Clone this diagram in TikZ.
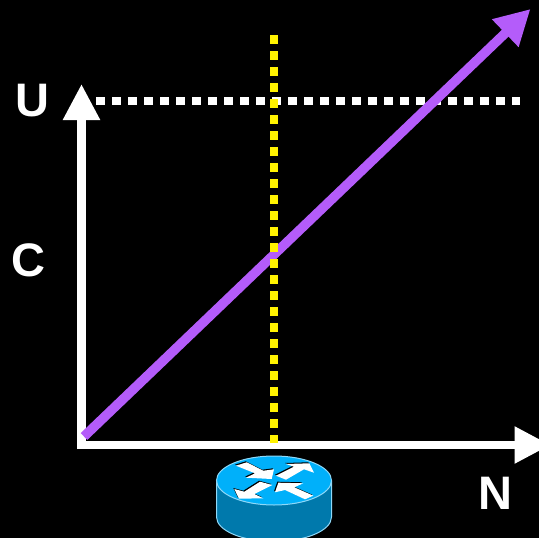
\documentclass[tikz,border=0pt]{standalone}
\usepackage{xcolor}
\usepackage{fontspec}
\setmainfont{Liberation Sans}
\usetikzlibrary{arrows.meta}
\definecolor{linePurple}{HTML}{B45CFA}
\definecolor{routerTop}{HTML}{00B0FA}
\definecolor{routerSide}{HTML}{0079AC}
\definecolor{routerEdge}{HTML}{8FD8F8}
\tikzset{
    axisline/.style={draw=white,line width=8.5pt,-{Triangle[width=35pt,length=36pt]}},
    limitline/.style={line width=8.5pt,dash pattern=on 8.5pt off 7.5pt},
    axislabel/.style={text=white,font=\fontsize{47}{47}\selectfont\bfseries,inner sep=0pt}
}
\begin{document}
\begin{tikzpicture}[x=1pt,y=-1pt]
    \useasboundingbox (0,0) rectangle (539,538);
    \fill[black] (0,0) rectangle (539,538);
    \coordinate (origin) at (77,445);
    \coordinate (corner) at (81.5,449);
    \coordinate (utop) at (81.5,84);
    \coordinate (nend) at (550.5,445);
    \coordinate (lineStart) at (84,436.5);
    \coordinate (lineEnd) at (530.5,9);
    \coordinate (uStart) at (96,101);
    \coordinate (uEnd) at (520,101);
    \coordinate (nStart) at (274,35);
    \coordinate (nStop) at (274,443);
    % Axes
    \draw[axisline] (corner) -- (utop);
    \draw[axisline] (origin) -- (nend);
    % Upper limit
    \draw[limitline,white] (uStart) -- (uEnd);
    % Growth line
    \draw[linePurple,line width=9.5pt,-{Triangle[width=36pt,length=35pt]}] (lineStart) -- (lineEnd);
    % Router position
    \draw[limitline,yellow] (nStart) -- (nStop);
    % Labels
    \node[axislabel] (ulabel) at (32.5,101) {U};
    \node[axislabel] (clabel) at (28.5,260) {C};
    \node[axislabel] (nlabel) at (495.5,493) {N};
    % Router
    \fill[routerSide,draw=routerEdge,line width=1pt] (216.5,480.5) -- (216.5,517)
        arc[start angle=180,end angle=0,x radius=57.5,y radius=24.5] -- (331.5,480.5);
    \fill[routerTop,draw=routerEdge,line width=1pt] (274,480.5) ellipse[x radius=57.5,y radius=24.5];
    \foreach \dx/\dy/\c in {-1/-1/black,0/0/white} {
        \begin{scope}[shift={(\dx,\dy)}]
            \fill[\c] (236,465.7) -- (246.7,462.3) -- (263.3,470.7) -- (274,469.3) -- (271.7,479) -- (246,477.7) -- (255,473.3) -- cycle;
            \fill[\c] (276,475.7) -- (294,466.7) -- (286,464) -- (309.3,463.3) -- (314,472.7) -- (304,469.3) -- (286,479.7) -- cycle;
            \fill[\c] (260,481.7) -- (272.3,485) -- (254.3,494) -- (263.3,498.3) -- (239,498.7) -- (234.3,489) -- (244.3,491.7) -- cycle;
            \fill[\c] (275,492.3) -- (278.3,482.7) -- (303.3,483.3) -- (294.3,487.3) -- (313.3,495.7) -- (305,499.3) -- (285,490) -- cycle;
        \end{scope}
    }
\end{tikzpicture}
\end{document}
